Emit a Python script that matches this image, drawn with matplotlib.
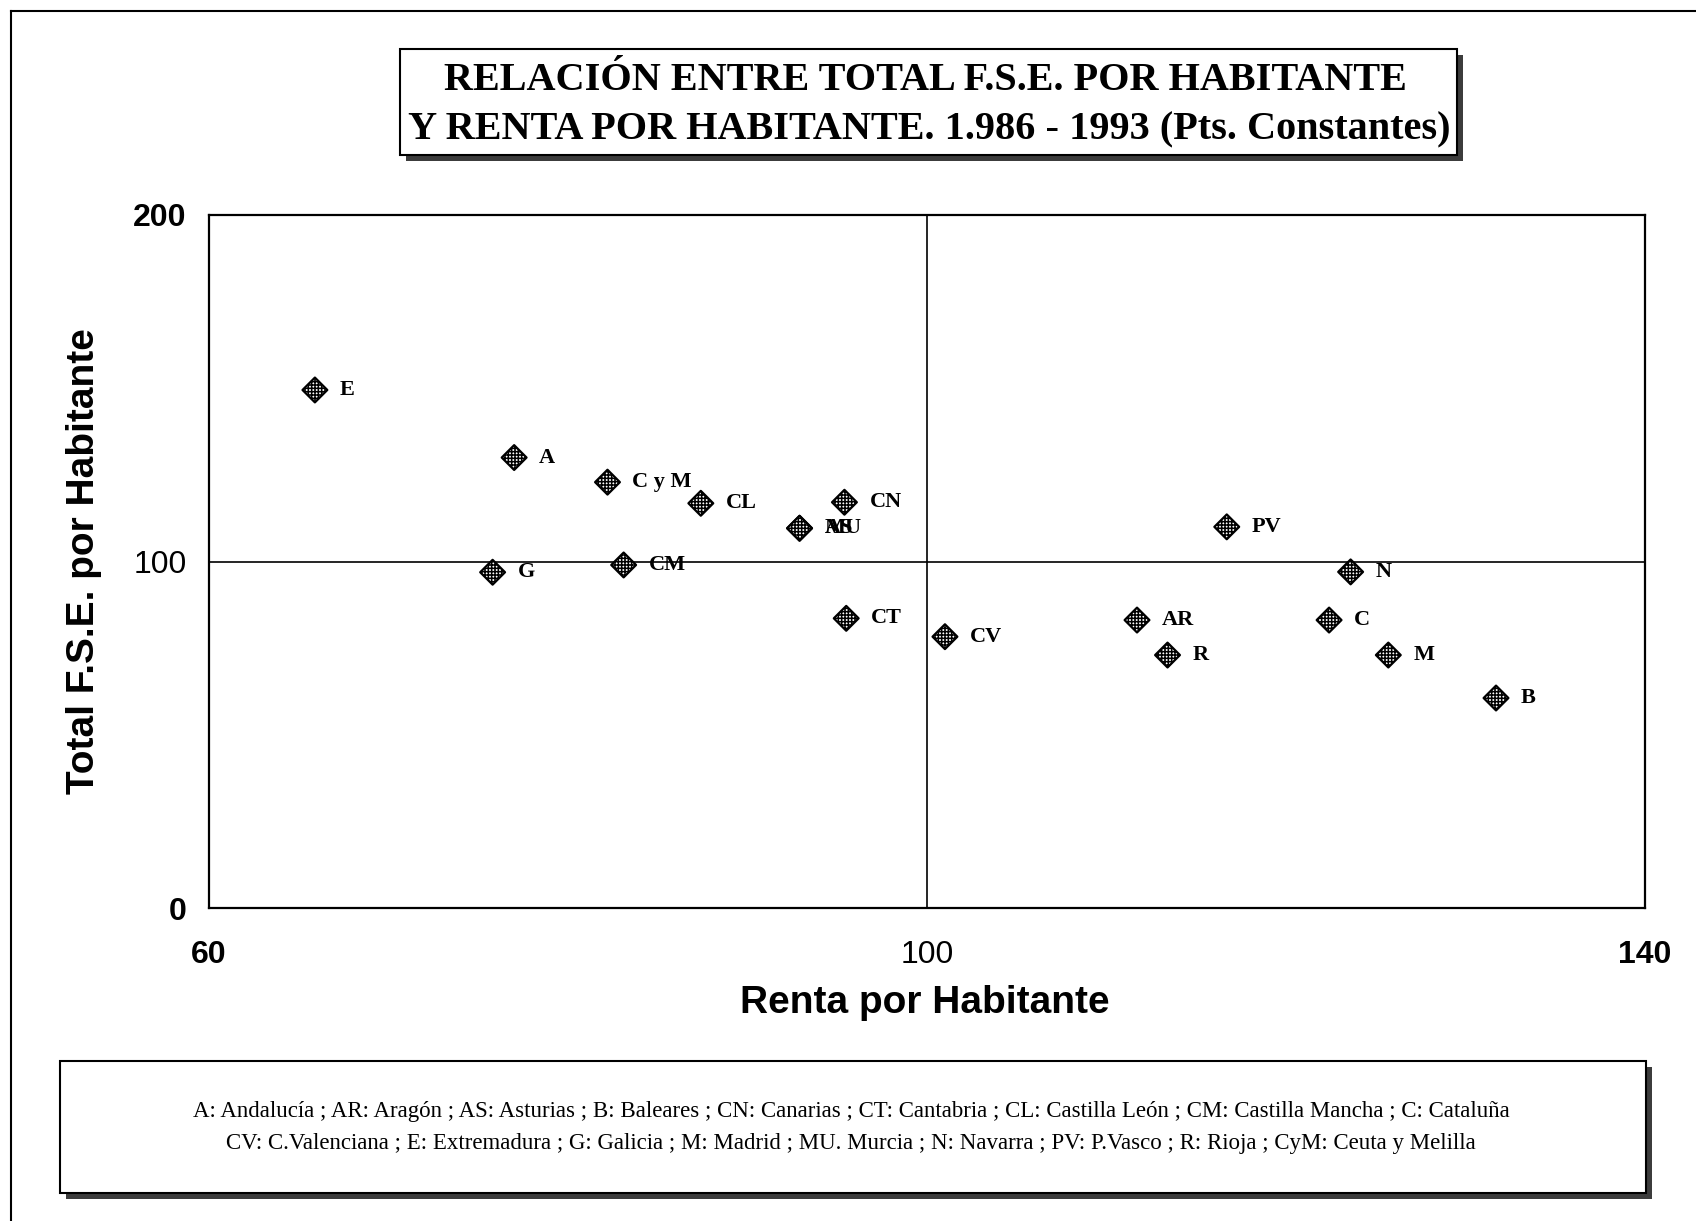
import matplotlib
matplotlib.use("Agg")
import matplotlib.pyplot as plt
from matplotlib.patches import Rectangle
from matplotlib.lines import Line2D

# ---- data ----
codes = ["E", "A", "C y M", "CL", "AS", "MU", "CN", "G", "CM", "CT", "CV",
         "PV", "N", "AR", "C", "R", "M", "B"]
renta = [65.9, 77.0, 82.2, 87.4, 92.9, 92.9, 95.4, 75.8, 83.1, 95.5, 101.0,
         116.7, 123.6, 111.7, 122.4, 113.4, 125.7, 131.7]
fse = [149.5, 130.0, 122.9, 116.8, 109.6, 109.6, 117.1, 96.9, 99.0, 83.6, 78.3,
       110.0, 97.0, 83.1, 83.1, 73.0, 73.0, 60.6]

xticks = [60, 100, 140]
yticks = [0, 100, 200]

title_lines = ["RELACIÓN ENTRE TOTAL F.S.E. POR HABITANTE",
               "Y RENTA POR HABITANTE. 1.986 - 1993 (Pts. Constantes)"]
xlabel = "Renta por Habitante"
ylabel = "Total F.S.E. por Habitante"
legend_lines = [
    "A: Andalucía ; AR: Aragón ; AS: Asturias ; B: Baleares ; CN: Canarias ; CT: Cantabria ; CL: Castilla León ; CM: Castilla Mancha ; C: Cataluña",
    "CV: C.Valenciana ; E: Extremadura ; G: Galicia ; M: Madrid ; MU. Murcia ; N: Navarra ; PV: P.Vasco ; R: Rioja ; CyM: Ceuta y Melilla",
]

W, H = 1696, 1221
plt.rcParams["hatch.linewidth"] = 1.1
fig = plt.figure(figsize=(W / 100, H / 100), dpi=100)
fig.patch.set_facecolor("white")

def fx(px):
    return px / W

def fy(py):
    return 1 - py / H

ax = fig.add_axes([fx(209), fy(908), fx(1645) - fx(209), fy(215) - fy(908)])
ax.set_xlim(60, 140)
ax.set_ylim(0, 200)
for s in ax.spines.values():
    s.set_linewidth(1.6)
    s.set_color("black")
ax.axvline(100, color="black", lw=1.2, zorder=1)
ax.axhline(100, color="black", lw=1.2, zorder=1)

ax.scatter(renta, fse, marker="D", s=160, facecolor="white", edgecolor="black",
           linewidth=1.6, hatch="+++++", zorder=3)
for c, xv, yv in zip(codes, renta, fse):
    ax.annotate(c, (xv, yv), xytext=(18, 0), textcoords="offset points",
                ha="left", va="center", fontsize=16, fontweight="bold",
                family="Liberation Serif", zorder=4)

ax.set_xticks(xticks)
ax.set_yticks(yticks)
ax.set_xticklabels([str(v) for v in xticks], fontsize=23, family="Liberation Sans")
ax.set_yticklabels([str(v) for v in yticks], fontsize=23, family="Liberation Sans")
for lab, v in zip(ax.get_xticklabels(), xticks):
    lab.set_fontweight("normal" if v == 100 else "bold")
for lab, v in zip(ax.get_yticklabels(), yticks):
    lab.set_fontweight("normal" if v == 100 else "bold")
ax.tick_params(axis="x", length=0, pad=23)
ax.tick_params(axis="y", length=0, pad=16)

fig.text(fx(925), fy(1003), xlabel, ha="center", va="center", fontsize=28,
         fontweight="bold", family="Liberation Sans")
fig.text(fx(84), fy(561), ylabel, ha="center", va="center", rotation=90,
         fontsize=28, fontweight="bold", family="Liberation Sans")

# title box with shadow
tb = (400, 49, 1457, 155)
fig.add_artist(Rectangle((fx(tb[0] + 6), fy(tb[3] + 6)), fx(tb[2] - tb[0]), fy(tb[1]) - fy(tb[3]),
                         transform=fig.transFigure, facecolor="#3c3c3c", edgecolor="none", zorder=1))
fig.add_artist(Rectangle((fx(tb[0]), fy(tb[3])), fx(tb[2] - tb[0]), fy(tb[1]) - fy(tb[3]),
                         transform=fig.transFigure, facecolor="white", edgecolor="black", lw=1.5, zorder=2))
fig.text(fx(925), fy(80), title_lines[0], ha="center", va="center", fontsize=29,
         fontweight="bold", family="Liberation Serif", zorder=3)
fig.text(fx(929), fy(130), title_lines[1], ha="center", va="center", fontsize=29,
         fontweight="bold", family="Liberation Serif", zorder=3)

# legend box with shadow
lb = (60, 1061, 1646, 1193)
fig.add_artist(Rectangle((fx(lb[0] + 6), fy(lb[3] + 6)), fx(lb[2] - lb[0]), fy(lb[1]) - fy(lb[3]),
                         transform=fig.transFigure, facecolor="#3c3c3c", edgecolor="none", zorder=1))
fig.add_artist(Rectangle((fx(lb[0]), fy(lb[3])), fx(lb[2] - lb[0]), fy(lb[1]) - fy(lb[3]),
                         transform=fig.transFigure, facecolor="white", edgecolor="black", lw=1.5, zorder=2))
fig.text(fx(851), fy(1112), legend_lines[0], ha="center", va="center", fontsize=16.5,
         family="Liberation Serif", zorder=3)
fig.text(fx(851), fy(1143), legend_lines[1], ha="center", va="center", fontsize=16.5,
         family="Liberation Serif", zorder=3)

# page border (top and left)
fig.add_artist(Line2D([fx(11), 1.0], [fy(11), fy(11)], transform=fig.transFigure, color="black", lw=1.5))
fig.add_artist(Line2D([fx(11), fx(11)], [fy(11), 0.0], transform=fig.transFigure, color="black", lw=1.5))

fig.savefig("out.png", dpi=100)
